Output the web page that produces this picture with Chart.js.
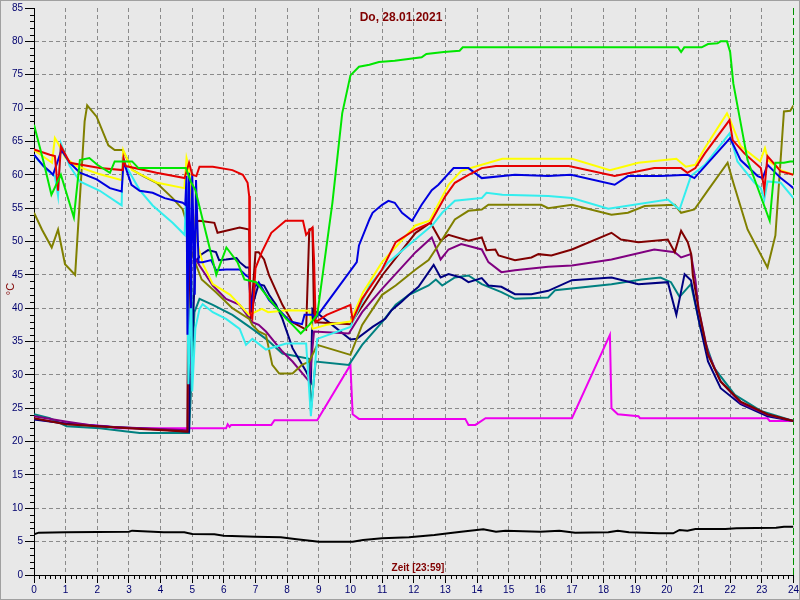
<!DOCTYPE html>
<html>
<head>
<meta charset="utf-8">
<script src="https://cdn.jsdelivr.net/npm/chart.js@4.4.1/dist/chart.umd.min.js"></script>
<style>
html, body { margin: 0; padding: 0; background: #e8e8e8; }
canvas { display: block; }
</style>
</head>
<body>
<canvas id="tempChart" width="800" height="600"></canvas>
<script>
// Messwerte [Stunde, °C]
var gruen = [[0,67.5],[0.3,62],[0.55,57],[0.65,58],[0.85,60],[1.26,53.6],[1.45,62.2],[1.75,62.5],[2.0,61.5],[2.4,60.3],[2.55,62],[3.1,62],[3.3,61],[4.8,61],[4.95,59],[5.1,57.7],[5.76,45],[6.08,49.1],[6.43,46.9],[6.65,44.3],[7.02,43.9],[7.43,41.4],[7.97,38.4],[8.17,37.5],[8.43,36.2],[8.7,37.5],[8.95,39],[9.43,55.8],[9.74,69.2],[10.0,74.9],[10.27,76.2],[10.6,76.5],[10.9,76.9],[11.4,77.1],[12.25,77.6],[12.4,78.1],[12.95,78.4],[13.45,78.6],[13.55,79.1],[20.35,79.1],[20.45,78.4],[20.55,79.1],[21.1,79.1],[21.3,79.6],[21.6,79.7],[21.7,80],[21.9,80],[22.0,78.4],[22.1,73.7],[22.55,62.2],[23.25,53.1],[23.35,58.3],[23.43,61.8],[23.7,61.8],[23.9,62],[24,62]];
var gelb = [[0,63.7],[0.57,61.8],[0.66,65.5],[0.75,64.8],[1.0,62.5],[1.35,61.3],[2.0,60.2],[2.78,59.2],[2.82,63.7],[3.1,60.7],[3.9,58.8],[4.75,58],[4.82,62.5],[4.9,61],[5.0,55],[5.2,49],[5.35,46.5],[5.65,43.6],[6.2,42],[6.8,39],[7.2,39.9],[7.4,39.4],[8.0,39.7],[8.7,39.6],[8.8,36.9],[9.25,37.5],[10.0,38],[10.4,42.4],[11.0,46.9],[12.05,52.4],[12.5,53.1],[13.1,58.5],[13.5,60.6],[14.15,61.5],[14.8,62.4],[17.0,62.4],[18.2,60.7],[19.1,61.8],[20.3,62.4],[20.6,61.2],[20.9,61.5],[21.2,64],[21.9,69.2],[22.0,68.2],[22.33,64.3],[22.95,62],[23.1,64],[23.2,62.2],[23.6,60.7],[24,60]];
var rot = [[0,63.8],[0.5,63],[0.66,62.8],[0.76,57.6],[0.85,64.3],[1.13,61.8],[2.08,61],[2.8,60.7],[2.83,62.5],[2.9,61.3],[3.87,60.3],[4.76,59.5],[4.9,61.8],[5.0,60],[5.13,59.8],[5.23,61.2],[5.65,61.2],[6.27,60.7],[6.6,60],[6.75,58.8],[6.8,56.8],[6.82,39.4],[6.9,38.5],[7.0,46],[7.2,48.4],[7.5,51.3],[7.95,53.1],[8.5,53.1],[8.6,51],[8.8,52.1],[8.85,47.3],[8.9,37.9],[9.25,39],[10.0,40.5],[10.07,38.2],[10.37,41.4],[11.0,45.8],[11.43,49.9],[12.06,51.8],[12.53,52.8],[13.0,56.8],[13.3,58.8],[13.73,60],[14.15,61],[14.6,61.3],[16.9,61.3],[18.35,59.8],[19.6,61],[20.45,61],[20.65,60.3],[20.9,61],[21.2,63.2],[21.98,68.2],[22.08,65.2],[22.45,63.2],[22.97,61],[23.08,57.7],[23.18,62.8],[23.6,60.5],[24,60]];
var blau = [[0,63],[0.3,61.3],[0.5,60.5],[0.6,60],[0.76,62.2],[0.87,63.7],[1.13,61.8],[1.45,60.3],[1.98,59.3],[2.4,58],[2.77,57.5],[2.83,62],[3.08,58.5],[3.34,57.6],[3.75,57.3],[4.13,56.5],[4.7,55.8],[4.78,55.5],[4.82,59.8],[4.85,36],[4.9,60.3],[4.96,40],[5.0,60.3],[5.08,42],[5.12,59.2],[5.2,46.9],[5.33,46.9],[5.6,47.2],[5.75,45.7],[6.07,45.8],[6.5,45.8],[6.7,44.9],[6.8,44.6],[6.85,39.9],[6.95,43],[7.1,43.9],[7.43,41.2],[7.85,39.2],[8.1,38],[8.47,37.6],[8.55,39],[8.8,39],[8.9,38.5],[10.2,46.9],[10.27,49.4],[10.6,53.3],[10.7,54.3],[11.0,55.5],[11.2,56.1],[11.4,55.8],[11.63,54.3],[11.95,53.1],[12.25,55.5],[12.57,57.7],[12.78,58.5],[13.26,61],[13.73,61],[14.15,59.5],[15.2,60],[16.25,59.8],[16.97,60],[18.35,58.5],[18.77,59.8],[19.8,59.8],[20.66,60],[20.87,59.5],[22.0,65.5],[22.33,62.2],[22.87,59.8],[23.03,59.5],[23.18,61.5],[23.6,59.5],[23.87,58.5],[24,58]];
var cyan = [[0,63],[0.13,62.2],[0.4,60.7],[0.66,59.8],[0.76,56.8],[0.85,64.7],[1.13,61.3],[1.45,59],[2.08,57.6],[2.77,55.4],[2.8,62.2],[3.34,57.7],[3.75,55.4],[4.38,52.8],[4.76,51],[4.82,58.8],[4.88,28.6],[4.97,44.3],[5.0,27.5],[5.1,37],[5.23,39.9],[5.33,40.6],[5.65,39.4],[6.07,38.4],[6.5,36.9],[6.7,34.5],[6.9,35.4],[7.33,33.8],[7.97,34.7],[8.6,34.7],[8.75,23.8],[8.95,35.4],[10.0,37.2],[10.6,43.4],[11.2,46.9],[12.05,50.3],[12.6,52.5],[12.9,54.3],[13.3,56.1],[14.15,56.5],[14.3,57.3],[14.8,57],[16.25,56.8],[17.0,56.5],[18.15,54.9],[20.03,56.3],[20.4,54.8],[20.76,59.8],[21.2,61.5],[21.98,66.2],[22.23,62],[22.77,58.8],[22.97,58],[23.08,56.3],[23.18,59],[23.6,58.8],[24,56.5]];
var oliv = [[0,54.3],[0.25,51.8],[0.56,49.1],[0.76,51.8],[0.98,46.6],[1.3,45],[1.6,68],[1.68,70.4],[1.98,68.7],[2.35,64.4],[2.55,63.7],[2.8,63.7],[3.12,60.7],[3.45,59.8],[3.87,58.8],[4.38,56.5],[4.7,54.8],[4.85,52.4],[5.0,48],[5.3,44.3],[5.75,42.4],[6.27,40],[6.8,38.4],[6.9,37.5],[7.1,36.5],[7.33,36],[7.53,31.5],[7.75,30.2],[8.17,30.2],[8.47,31.5],[8.7,32],[8.95,34.5],[10.0,33],[10.37,37.5],[11.0,42],[11.43,43.4],[12.06,45.8],[12.47,47.2],[12.9,50.3],[13.3,53.3],[13.73,54.6],[14.15,54.8],[14.36,55.5],[16.03,55.5],[16.25,55],[17.0,55.5],[18.25,54],[18.77,54.3],[19.3,55.3],[20.25,55.5],[20.45,54.3],[20.87,54.8],[21.3,57.7],[21.92,61.8],[22.1,58.8],[22.55,51.8],[23.18,46.1],[23.43,50.9],[23.7,69.5],[23.9,69.6],[24,70.4]];
var braun = [[0,23.5],[1,22.6],[3,22],[4.85,21.5],[4.88,53],[4.92,40],[4.96,52.8],[5.23,53.1],[5.7,52.8],[5.8,51.3],[6.07,51.6],[6.5,52.1],[6.8,51.8],[6.85,38.4],[7.0,48.4],[7.1,48.4],[7.27,47.3],[7.43,44.9],[7.85,40.5],[8.17,37.9],[8.6,36.8],[8.7,51.8],[8.8,52],[8.85,38.4],[8.9,37.9],[10.0,37.6],[11.0,44.9],[12.06,51.3],[12.53,52.8],[12.85,50.1],[13.1,51],[13.73,50.1],[14.15,50.6],[14.3,48.7],[14.58,48.8],[14.68,47.9],[15.2,47.2],[15.72,47.6],[15.94,48.1],[16.35,47.9],[17.0,48.8],[18.25,51.3],[18.55,50.3],[19.1,49.9],[20.03,50.3],[20.25,48.4],[20.45,51.6],[20.66,49.9],[20.77,48.1],[20.82,44.9],[21.0,39.9],[21.3,33],[21.7,29],[22.33,26],[23.18,24.1],[24,23.1]];
var lila = [[0,23.8],[1,23],[2,22.3],[4.85,21.7],[4.9,50],[4.97,48.4],[5.23,46.4],[5.65,43.4],[6.07,41.4],[6.5,40.5],[6.9,37.9],[7.1,37.5],[7.33,36.5],[7.85,33.5],[8.17,32],[8.7,29],[8.85,36.5],[9.95,36.2],[10.37,39.4],[11.0,42.9],[12.06,48.4],[12.57,50.6],[12.85,47.3],[13.1,48.8],[13.5,49.6],[14.15,48.8],[14.36,46.9],[14.77,45.4],[15.2,45.7],[16.25,46.2],[17.0,46.4],[18.25,47.3],[19.6,48.8],[20.25,48.4],[20.45,47.6],[20.76,48.1],[20.9,44.3],[21.0,40],[21.3,33.3],[21.7,29],[22.33,25.8],[23.18,24],[24,23.1]];
var navy = [[0,23.3],[1,22.7],[2.5,22.2],[4.0,21.8],[4.9,21.5],[4.95,50],[5.0,35],[5.1,47],[5.3,48.1],[5.5,48.7],[5.75,48.4],[5.85,47.2],[6.07,47.3],[6.4,47.5],[6.5,46.9],[6.7,46.1],[6.8,46.1],[6.85,39.4],[7.0,42],[7.1,43.6],[7.27,43.4],[7.43,42],[7.65,40.5],[7.85,38.4],[8.17,34],[8.6,30.5],[8.75,29],[8.8,39.9],[9.0,39.1],[9.5,37.2],[10.0,35.3],[10.2,35.4],[10.7,37.2],[11.1,38.4],[11.3,39.7],[11.6,40.9],[11.85,42],[12.15,43.2],[12.63,46.5],[12.85,44.6],[13.1,45.1],[13.5,44.6],[13.73,43.9],[14.15,44.5],[14.36,43.4],[14.77,43.2],[15.2,42.1],[15.72,42.1],[16.25,42.6],[17.0,44.2],[18.25,44.6],[19.1,43.6],[20.03,43.9],[20.3,39],[20.56,45.1],[20.76,44.2],[21.0,38.4],[21.3,32],[21.7,28],[22.33,25.6],[23.18,23.8],[24,23.1]];
var petrol = [[0,24.1],[0.5,23.5],[1.03,22.3],[2.08,22],[2.8,21.6],[3.34,21.3],[4.9,21.3],[5.07,39.4],[5.23,41.4],[5.65,40.5],[6.27,39],[6.9,36.9],[7.33,35.4],[7.43,35],[7.85,33.2],[8.7,32.4],[8.75,24.6],[8.9,32],[9.95,31.5],[10.37,34.5],[11.0,37.9],[11.43,40.5],[11.85,42],[12.47,43.4],[12.7,44.3],[12.9,43.4],[13.3,44.6],[13.73,44.9],[14.15,43.6],[14.77,42.4],[15.2,41.4],[16.25,41.6],[16.47,42.7],[18.25,43.6],[19.2,44.3],[19.8,44.6],[20.13,43.9],[20.4,41.7],[20.76,43.6],[21.07,36.9],[21.5,31],[22.15,27],[22.97,24.6],[24,23.1]];
var magenta = [[0,23.4],[0.9,22.8],[2.3,22.3],[2.6,22],[6.07,22],[6.12,22.6],[6.18,22.2],[6.23,22.5],[7.5,22.5],[7.6,23.2],[8.95,23.2],[10.0,31.5],[10.07,24.1],[10.27,23.4],[13.63,23.4],[13.73,22.5],[13.95,22.5],[14.27,23.5],[17.0,23.5],[18.2,36],[18.25,25],[18.45,24.1],[19.1,23.8],[19.15,23.5],[23.18,23.5],[23.25,23.1],[24,23.1]];
var schwarz = [[0,6.1],[0.15,6.35],[1,6.4],[3,6.5],[3.1,6.65],[4.1,6.4],[4.75,6.4],[5,6.15],[5.7,6.1],[6,5.9],[7,5.75],[7.8,5.65],[8.3,5.35],[8.8,5.1],[9,5.0],[10.07,5.0],[10.4,5.25],[11,5.5],[11.85,5.65],[12.65,6.0],[13.1,6.25],[13.5,6.5],[14.2,6.85],[14.6,6.5],[14.9,6.65],[16,6.5],[16.6,6.65],[17.1,6.35],[18.15,6.4],[18.45,6.65],[18.8,6.4],[19.75,6.25],[20.2,6.25],[20.4,6.75],[20.65,6.65],[20.9,6.9],[21.85,6.9],[22.2,7.0],[23.45,7.1],[23.7,7.25],[24,7.25]];

var titelText = 'Do, 28.01.2021';
var zeitText = 'Zeit [23:59]';
var einheit = '°C';

var schrift = '"Liberation Sans", Arial, sans-serif';

function punkte(reihe) {
    return reihe.map(function(p) { return {x: p[0], y: p[1]}; });
}

function linie(reihe, farbe) {
    return {data: punkte(reihe), borderColor: farbe, borderWidth: 2, pointRadius: 0, tension: 0, fill: false};
}

var deko = {
    id: 'deko',
    beforeDraw: function(chart) {
        var ctx = chart.ctx;
        ctx.save();
        ctx.fillStyle = '#e8e8e8';
        ctx.fillRect(0, 0, chart.width, chart.height);
        ctx.restore();
    },
    afterDraw: function(chart) {
        var ctx = chart.ctx, xs = chart.scales.x, ys = chart.scales.y, area = chart.chartArea;
        ctx.save();
        // kleine Teilstriche
        ctx.strokeStyle = '#000';
        ctx.lineWidth = 1;
        ctx.beginPath();
        for (var v = 0; v <= 85; v++) {
            if (v % 5) {
                var py = Math.round(ys.getPixelForValue(v)) + 0.5;
                ctx.moveTo(area.left - 4, py);
                ctx.lineTo(area.left, py);
            }
        }
        for (var m = 0; m <= 144; m++) {
            if (m % 6) {
                var px = Math.round(xs.getPixelForValue(m / 6)) + 0.5;
                ctx.moveTo(px, area.bottom);
                ctx.lineTo(px, area.bottom + 4);
            }
        }
        ctx.stroke();

        ctx.fillStyle = '#800000';
        ctx.textAlign = 'center';
        ctx.textBaseline = 'middle';
        ctx.font = 'bold 12px ' + schrift;
        ctx.fillText(titelText, 401, 18);
        ctx.font = 'bold 10px ' + schrift;
        ctx.fillText(zeitText, 418, 568);
        ctx.translate(11, 289);
        ctx.rotate(-Math.PI / 2);
        ctx.font = '11px ' + schrift;
        ctx.fillText(einheit, 0, 0);
        ctx.restore();

        // Rahmen
        ctx.save();
        ctx.strokeStyle = '#a0a0a0';
        ctx.lineWidth = 1;
        ctx.strokeRect(0.5, 0.5, chart.width - 1, chart.height - 1);
        ctx.restore();
    }
};

var ctx = document.getElementById('tempChart').getContext('2d');
var tempChart = new Chart(ctx, {
    type: 'line',
    data: {
        datasets: [
            linie(gruen, '#00e600'),
            linie(rot, '#e60000'),
            linie(blau, '#0000e0'),
            linie(gelb, '#ffff00'),
            linie(cyan, '#33eeee'),
            linie(oliv, '#808000'),
            linie(braun, '#800000'),
            linie(lila, '#800080'),
            linie(navy, '#000080'),
            linie(petrol, '#008080'),
            linie(magenta, '#ee00ee'),
            linie(schwarz, '#000000')
        ]
    },
    options: {
        responsive: false,
        animation: false,
        layout: {padding: {left: 0, right: 4, top: 4, bottom: 0}},
        plugins: {legend: {display: false}, tooltip: {enabled: false}, title: {display: false}},
        scales: {
            x: {
                type: 'linear', min: 0, max: 24,
                afterFit: function(s) { s.height = 25; },
                ticks: {stepSize: 1, autoSkip: false, maxRotation: 0, padding: 1, color: '#00006e', font: {size: 10, family: schrift}},
                grid: {
                    color: function(c) { var v = c.tick.value; return v === 0 ? 'rgba(0,0,0,0)' : (v === 24 ? '#009000' : '#8a8a8a'); },
                    lineWidth: 1, tickLength: 8, tickColor: '#000'
                },
                border: {display: true, color: '#000', width: 1,
                    dash: function(c) { return c.tick && c.tick.value === 24 ? [7, 3] : [4, 3]; }}
            },
            y: {
                min: 0, max: 85,
                afterFit: function(s) { s.width = 34; },
                ticks: {stepSize: 5, autoSkip: false, padding: 2, color: '#00006e', font: {size: 10, family: schrift}},
                grid: {
                    color: function(c) { var v = c.tick.value; return (v === 0 || v === 85) ? 'rgba(0,0,0,0)' : '#8a8a8a'; },
                    lineWidth: 1, tickLength: 9, tickColor: '#000'
                },
                border: {display: true, color: '#000', width: 1, dash: [4, 3]}
            }
        }
    },
    plugins: [deko]
});
</script>
</body>
</html>
